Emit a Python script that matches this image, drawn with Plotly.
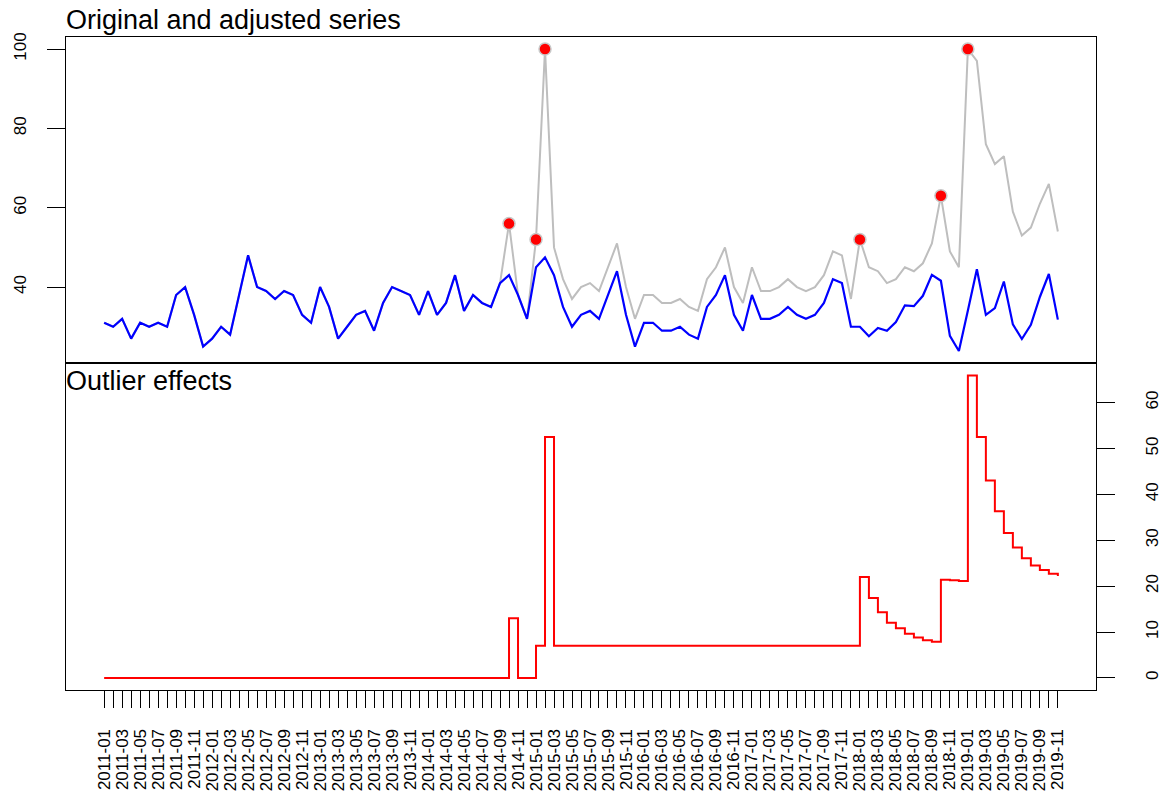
import plotly.graph_objects as go
import pandas as pd

# ---- data -------------------------------------------------------------
months = [p.strftime('%Y-%m') for p in pd.period_range('2011-01', '2019-11', freq='M')]

original = [31, 30, 32, 27, 31, 30, 31, 30, 38, 40, 33, 25, 27, 30, 28, 38, 48, 40, 39, 37,
            39, 38, 33, 31, 40, 35, 27, 30, 33, 34, 29, 36, 40, 39, 38, 33, 39, 33, 36, 43,
            34, 38, 36, 35, 41,
            56, 38, 32, 52, 100,
            50, 42, 37, 40, 41, 39, 45, 51, 40, 32, 38, 38, 36, 36, 37, 35, 34, 42, 45, 50,
            40, 36, 45, 39, 39, 40, 42, 40, 39, 40, 43, 49, 48, 37,
            52, 45, 44, 41, 42, 45, 44, 46, 51, 63, 49, 45, 100, 97, 76, 71, 73, 59, 53, 55,
            61, 66, 54]

adjusted = [31, 30, 32, 27, 31, 30, 31, 30, 38, 40, 33, 25, 27, 30, 28, 38, 48, 40, 39, 37,
            39, 38, 33, 31, 40, 35, 27, 30, 33, 34, 29, 36, 40, 39, 38, 33, 39, 33, 36, 43,
            34, 38, 36, 35, 41,
            43, 38, 32, 45, 47.5,
            43, 35, 30, 33, 34, 32, 38, 44, 33, 25, 31, 31, 29, 29, 30, 28, 27, 35, 38, 43,
            33, 29, 38, 32, 32, 33, 35, 33, 32, 33, 36, 42, 41, 30,
            30.0, 27.6, 29.7, 29.0, 31.2, 35.4, 35.2, 37.8, 43.1, 41.6, 27.7, 23.9, 34.1, 44.5,
            33.0, 34.7, 41.4, 30.6, 26.9, 30.5, 37.5, 43.3, 31.8]

effects = [0] * 45 + [13, 0, 0, 7, 52.5] + [7] * 34 + \
          [22.0, 17.4, 14.3, 12.0, 10.8, 9.6, 8.8, 8.2, 7.9, 21.4, 21.3, 21.1, 65.9, 52.5,
           43.0, 36.3, 31.6, 28.4, 26.1, 24.5, 23.5, 22.7, 22.2]

outlier_months = ['2014-10', '2015-01', '2015-02', '2018-01', '2018-10', '2019-01']

top_ticks = [40, 60, 80, 100]
bottom_ticks = [0, 10, 20, 30, 40, 50, 60]

# ---- figure -----------------------------------------------------------
x = list(range(len(months)))
out_idx = [months.index(m) for m in outlier_months]
out_val = [original[i] for i in out_idx]

FONT = "Liberation Sans, Arial, Helvetica, sans-serif"
W, H = 1164, 796
ML, MR, MT, MB = 66, 68, 37, 106
plot_h = H - MT - MB
split = (690 - 363) / plot_h

fig = go.Figure()
fig.add_trace(go.Scatter(x=x, y=original, mode='lines', line=dict(color='#BEBEBE', width=2),
                         xaxis='x', yaxis='y', hoverinfo='skip'))
fig.add_trace(go.Scatter(x=x, y=adjusted, mode='lines', line=dict(color='#0000FF', width=2.2),
                         xaxis='x', yaxis='y'))
fig.add_trace(go.Scatter(x=out_idx, y=out_val, mode='markers',
                         marker=dict(color='#FF0000', size=12,
                                     line=dict(color='#C8C8C8', width=1.5)),
                         xaxis='x', yaxis='y'))
fig.add_trace(go.Scatter(x=x, y=effects, mode='lines', line=dict(color='#FF0000', width=2, shape='hv'),
                         xaxis='x2', yaxis='y2'))

xr = [-4.24, 110.24]
ticktext = [m if i % 2 == 0 else '' for i, m in enumerate(months)]

axis_common = dict(showgrid=False, zeroline=False, showline=True, mirror=True,
                   linecolor='black', linewidth=1.3, automargin=False)

fig.update_layout(
    width=W, height=H,
    margin=dict(l=ML, r=MR, t=MT, b=MB, autoexpand=False),
    paper_bgcolor='white', plot_bgcolor='white',
    showlegend=False,
    font=dict(family=FONT, color='black', size=17),
    xaxis=dict(domain=[0, 1], range=xr, anchor='y', ticks='', showticklabels=False,
               **axis_common),
    yaxis=dict(domain=[split, 1], range=[20.86, 103.04], anchor='x',
               ticks='outside', ticklen=18, tickwidth=1.3, tickcolor='black',
               tickvals=top_ticks, tickangle=-90, ticklabelstandoff=14,
               tickfont=dict(size=17), **axis_common),
    xaxis2=dict(domain=[0, 1], range=xr, anchor='y2',
                ticks='outside', ticklen=17, tickwidth=1.3, tickcolor='black',
                tickvals=x, ticktext=ticktext, tickangle=-90, ticklabelstandoff=14,
                tickfont=dict(size=17), **axis_common),
    yaxis2=dict(domain=[0, split], range=[-2.64, 68.64], anchor='x2', side='right',
                ticks='outside', ticklen=18, tickwidth=1.3, tickcolor='black',
                tickvals=bottom_ticks, tickangle=-90, ticklabelstandoff=22,
                tickfont=dict(size=17), **axis_common),
    annotations=[
        dict(text='Original and adjusted series', xref='paper', yref='paper', x=0, y=1,
             xanchor='left', yanchor='bottom', showarrow=False, xshift=-2, yshift=0,
             font=dict(size=27, family=FONT)),
        dict(text='Outlier effects', xref='paper', yref='paper', x=0, y=split,
             xanchor='left', yanchor='top', showarrow=False, xshift=-2, yshift=-1,
             font=dict(size=27, family=FONT)),
    ],
)

fig.write_html("out.html",
               config={'displayModeBar': False},
               post_script="document.body.style.margin='0';document.body.style.padding='0';"
                           "document.body.style.overflow='hidden';")
